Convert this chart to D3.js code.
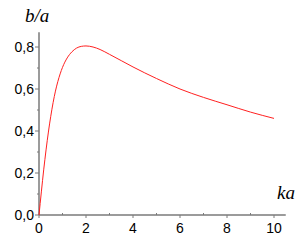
<!DOCTYPE html>
<html>
<head>
<meta charset="utf-8">
<script src="https://cdn.jsdelivr.net/npm/d3@7"></script>
<style>
  body { margin: 0; background: #fff; }
  svg { display: block; }
</style>
</head>
<body>
<div class="chart"></div>
<script>
// Curve
const ka = [0, 0.1, 0.2, 0.3, 0.4, 0.5, 0.6, 0.7, 0.8, 0.9, 1.0, 1.2, 1.4, 1.6, 1.8, 2.0, 2.3, 2.6, 3, 3.5, 4, 5, 6, 7, 8, 9, 10];
const ratio = [0, 0.11, 0.215, 0.31, 0.395, 0.47, 0.535, 0.59, 0.635, 0.672, 0.703, 0.748, 0.777, 0.795, 0.803, 0.805, 0.80, 0.788, 0.765, 0.735, 0.705, 0.65, 0.60, 0.56, 0.525, 0.49, 0.46];
const xTicks = [0, 2, 4, 6, 8, 10];
const yTicks = [0, 0.2, 0.4, 0.6, 0.8];

const width = 307, height = 250;
const svg = d3.select(".chart")
  .append("svg")
  .attr("width", width)
  .attr("height", height);

const xScale = d3.scaleLinear().domain([0, 10.5]).range([39, 285.75]);
const yScale = d3.scaleLinear().domain([0, 0.87]).range([215, 32.3]);

const axisColor = "#7a7a7a";
const fmt = d => d3.format(".1f")(d).replace(".", ",");

// x axis
const xAxis = svg.append("g").attr("transform", `translate(0,${yScale(0)})`);
xAxis.append("line")
  .attr("x1", xScale(0)).attr("x2", xScale(10.5))
  .attr("stroke", axisColor).attr("stroke-width", 1.5);
xAxis.selectAll(".major")
  .data(xTicks)
  .join("line")
    .attr("class", "major")
    .attr("x1", d => xScale(d)).attr("x2", d => xScale(d))
    .attr("y1", 0).attr("y2", 3)
    .attr("stroke", axisColor);
xAxis.selectAll(".minor")
  .data([1, 3, 5, 7, 9])
  .join("line")
    .attr("class", "minor")
    .attr("x1", d => xScale(d)).attr("x2", d => xScale(d))
    .attr("y1", -2).attr("y2", 0)
    .attr("stroke", axisColor);
xAxis.selectAll("text")
  .data(xTicks)
  .join("text")
    .attr("x", d => xScale(d))
    .attr("y", 18)
    .attr("text-anchor", "middle")
    .style("font", "14px 'Liberation Sans', Arial, sans-serif")
    .text(d => d);

// y axis
const yAxis = svg.append("g").attr("transform", `translate(${xScale(0)},0)`);
yAxis.append("line")
  .attr("y1", yScale(0)).attr("y2", yScale(0.87))
  .attr("stroke", axisColor).attr("stroke-width", 1.5);
yAxis.selectAll(".major")
  .data(yTicks)
  .join("line")
    .attr("class", "major")
    .attr("y1", d => yScale(d)).attr("y2", d => yScale(d))
    .attr("x1", -4).attr("x2", 0)
    .attr("stroke", axisColor);
yAxis.selectAll(".minor")
  .data([0.1, 0.3, 0.5, 0.7])
  .join("line")
    .attr("class", "minor")
    .attr("y1", d => yScale(d)).attr("y2", d => yScale(d))
    .attr("x1", -2).attr("x2", 0)
    .attr("stroke", axisColor);
yAxis.selectAll("text")
  .data(yTicks)
  .join("text")
    .attr("x", -5)
    .attr("y", d => yScale(d) + 5)
    .attr("text-anchor", "end")
    .style("font", "14px 'Liberation Sans', Arial, sans-serif")
    .text(fmt);

// axis titles
svg.append("text")
  .attr("x", 25).attr("y", 22)
  .style("font", "italic 19px 'Liberation Serif', 'DejaVu Serif', serif")
  .text("b/a");
svg.append("text")
  .attr("x", 277).attr("y", 199)
  .style("font", "italic 19px 'Liberation Serif', 'DejaVu Serif', serif")
  .text("ka");

// curve
const points = ka.map((k, i) => [k, ratio[i]]);
const line = d3.line()
  .x(d => xScale(d[0]))
  .y(d => yScale(d[1]))
  .curve(d3.curveMonotoneX);
svg.append("path")
  .datum(points)
  .attr("d", line)
  .attr("fill", "none")
  .attr("stroke", "#ff2020")
  .attr("stroke-width", 1);
</script>
</body>
</html>
